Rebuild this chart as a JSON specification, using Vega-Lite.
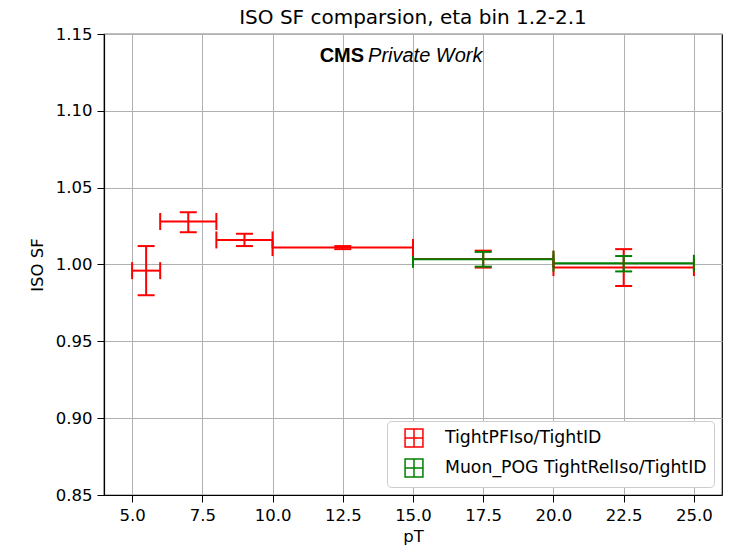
{
  "$schema": "https://vega.github.io/schema/vega-lite/v6.json",
  "width": 618,
  "height": 461,
  "autosize": {"type": "none"},
  "padding": {"left": 104, "top": 34, "right": 16, "bottom": 53},
  "background": "white",
  "title": {"text": "ISO SF comparsion, eta bin 1.2-2.1", "font": "DejaVu Sans", "fontSize": 20, "fontWeight": "normal", "color": "black", "offset": -2},
  "config": {
    "view": {"stroke": "black", "strokeWidth": 1.2},
    "axis": {
      "labelFont": "DejaVu Sans", "labelFontSize": 16.5, "labelColor": "black",
      "titleFont": "DejaVu Sans", "titleFontSize": 16.5, "titleFontWeight": "normal", "titleColor": "black",
      "tickColor": "black", "tickSize": 7, "domainColor": "black", "domainWidth": 1.2,
      "gridColor": "#b0b0b0", "gridWidth": 1, "labelPadding": 5
    },
    "legend": {
      "labelFont": "DejaVu Sans", "labelFontSize": 17.3, "labelColor": "black"
    }
  },
  "data": {
    "values": [
      {"series": "TightPFIso/TightID", "pt": 5.5, "sf": 0.996, "xlo": 5, "xhi": 6, "ylo": 0.980, "yhi": 1.012},
      {"series": "TightPFIso/TightID", "pt": 7, "sf": 1.028, "xlo": 6, "xhi": 8, "ylo": 1.021, "yhi": 1.034},
      {"series": "TightPFIso/TightID", "pt": 9, "sf": 1.016, "xlo": 8, "xhi": 10, "ylo": 1.012, "yhi": 1.020},
      {"series": "TightPFIso/TightID", "pt": 12.5, "sf": 1.011, "xlo": 10, "xhi": 15, "ylo": 1.010, "yhi": 1.012},
      {"series": "TightPFIso/TightID", "pt": 17.5, "sf": 1.0035, "xlo": 15, "xhi": 20, "ylo": 0.998, "yhi": 1.009},
      {"series": "TightPFIso/TightID", "pt": 22.5, "sf": 0.998, "xlo": 20, "xhi": 25, "ylo": 0.986, "yhi": 1.010},
      {"series": "Muon_POG TightRelIso/TightID", "pt": 17.5, "sf": 1.0034, "xlo": 15, "xhi": 20, "ylo": 0.9986, "yhi": 1.0082},
      {"series": "Muon_POG TightRelIso/TightID", "pt": 22.5, "sf": 1.0008, "xlo": 20, "xhi": 25, "ylo": 0.9955, "yhi": 1.0055}
    ]
  },
  "layer": [
    {
      "mark": {"type": "rule", "strokeWidth": 2},
      "encoding": {
        "x": {"field": "xlo", "type": "quantitative", "scale": {"domain": [4, 26], "nice": false, "zero": false},
              "axis": {"values": [5, 7.5, 10, 12.5, 15, 17.5, 20, 22.5, 25], "format": ".1f", "title": "pT", "titlePadding": 5}},
        "x2": {"field": "xhi"},
        "y": {"field": "sf", "type": "quantitative", "scale": {"domain": [0.85, 1.15], "nice": false, "zero": false},
              "axis": {"values": [0.85, 0.9, 0.95, 1.0, 1.05, 1.1, 1.15], "format": ".2f", "title": "ISO SF", "titlePadding": 10}},
        "color": {
          "field": "series", "type": "nominal",
          "scale": {"domain": ["TightPFIso/TightID", "Muon_POG TightRelIso/TightID"], "range": ["#ff0000", "#008000"]},
          "legend": {
            "title": null, "orient": "bottom-right", "offset": 8,
            "symbolType": "M-1,-1H1V1H-1Z M0,-1V1 M-1,0H1",
            "symbolSize": 320, "symbolStrokeWidth": 1.5, "symbolFillColor": "transparent", "symbolOpacity": 1,
            "symbolOffset": 10, "labelOffset": 21, "labelLimit": 400,
            "fillColor": "white", "strokeColor": "#cccccc", "cornerRadius": 4, "padding": 7,
            "rowPadding": 6
          }
        }
      }
    },
    {
      "mark": {"type": "rule", "strokeWidth": 2},
      "encoding": {
        "x": {"field": "pt", "type": "quantitative"},
        "y": {"field": "ylo", "type": "quantitative"},
        "y2": {"field": "yhi"},
        "color": {"field": "series", "type": "nominal"}
      }
    },
    {
      "mark": {"type": "point", "shape": "M0,-1V1", "size": 289, "filled": false, "strokeWidth": 2, "opacity": 1},
      "encoding": {
        "x": {"field": "xlo", "type": "quantitative"},
        "y": {"field": "sf", "type": "quantitative"},
        "color": {"field": "series", "type": "nominal"}
      }
    },
    {
      "mark": {"type": "point", "shape": "M0,-1V1", "size": 289, "filled": false, "strokeWidth": 2, "opacity": 1},
      "encoding": {
        "x": {"field": "xhi", "type": "quantitative"},
        "y": {"field": "sf", "type": "quantitative"},
        "color": {"field": "series", "type": "nominal"}
      }
    },
    {
      "mark": {"type": "point", "shape": "M-1,0H1", "size": 289, "filled": false, "strokeWidth": 2, "opacity": 1},
      "encoding": {
        "x": {"field": "pt", "type": "quantitative"},
        "y": {"field": "ylo", "type": "quantitative"},
        "color": {"field": "series", "type": "nominal"}
      }
    },
    {
      "mark": {"type": "point", "shape": "M-1,0H1", "size": 289, "filled": false, "strokeWidth": 2, "opacity": 1},
      "encoding": {
        "x": {"field": "pt", "type": "quantitative"},
        "y": {"field": "yhi", "type": "quantitative"},
        "color": {"field": "series", "type": "nominal"}
      }
    },
    {
      "data": {"values": [{}]},
      "mark": {"type": "text", "text": "CMS", "font": "Liberation Sans", "fontWeight": "bold", "fontSize": 20, "align": "right", "baseline": "middle", "color": "black"},
      "encoding": {"x": {"datum": 13.26}, "y": {"datum": 1.1357}}
    },
    {
      "data": {"values": [{}]},
      "mark": {"type": "text", "text": "Private Work", "font": "Liberation Sans", "fontStyle": "italic", "fontSize": 20, "align": "left", "baseline": "middle", "color": "black"},
      "encoding": {"x": {"datum": 13.4}, "y": {"datum": 1.1357}}
    }
  ]
}
